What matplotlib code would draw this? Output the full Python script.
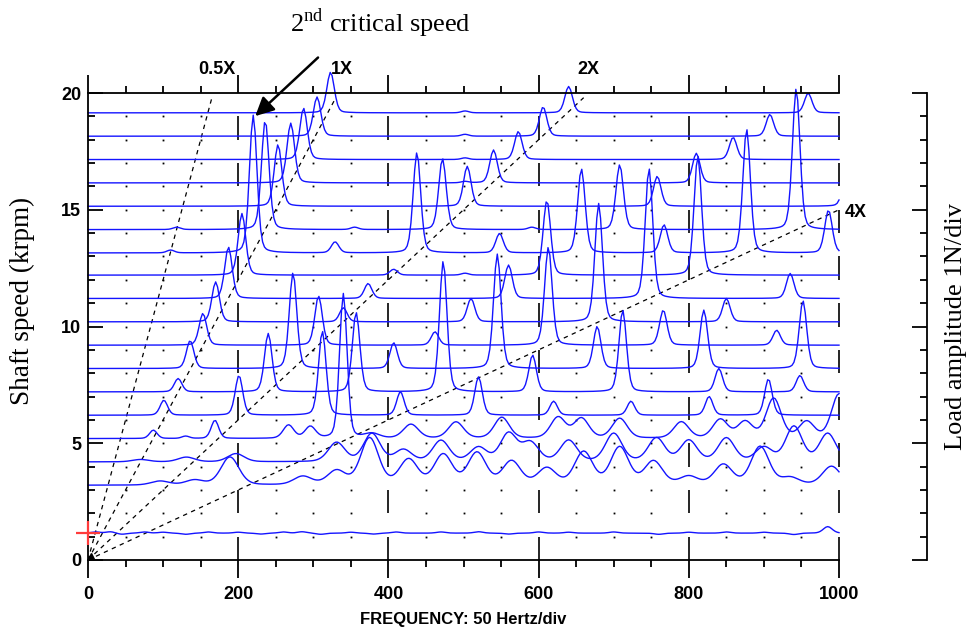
import numpy as np
import matplotlib.pyplot as plt

plt.rcParams['font.family'] = ['Liberation Sans', 'DejaVu Sans']
plt.rcParams['mathtext.fontset'] = 'custom'
plt.rcParams['mathtext.rm'] = 'Liberation Serif'

# shaft speed of each trace (krpm), bottom to top
speeds = [1.15, 3.2, 4.2, 5.2, 6.2, 7.2, 8.2, 9.2, 10.2, 11.2, 12.2,
          13.15, 14.15, 15.15, 16.15, 17.15, 18.15, 19.15]

# peaks per trace: (frequency Hz, amplitude in N) or (freq, amp, width)
p01 = [(10, 0.05), (30, 0.06), (45, -0.05), (75, 0.05), (100, 0.04), (130, -0.05),
       (160, 0.05), (200, 0.04), (230, -0.04), (260, 0.05), (285, 0.06), (310, -0.05),
       (350, 0.04), (380, -0.04), (410, 0.05), (470, 0.05), (520, 0.06), (560, -0.04),
       (600, 0.05), (640, 0.04), (700, 0.05), (760, -0.05), (800, 0.04), (850, 0.05),
       (900, 0.04), (940, -0.06), (985, 0.28)]
p03 = [(96, 0.17), (142, 0.21), (189, 1.2), (286, 0.36), (331, 0.6), (375, 2.0),
       (427, 1.07), (473, 1.28), (518, 1.36), (564, 1.0), (611, 0.7), (660, 1.4),
       (708, 1.6), (753, 1.0), (800, 0.35), (846, 0.86), (895, 1.64), (935, 0.3), (990, 0.8)]
p04 = [(70, 0.1), (131, 0.2), (197, 0.35), (331, 0.82), (378, 1.2), (420, 0.5),
       (470, 0.9), (520, 0.6), (560, 1.2), (589, 0.8), (640, 0.9), (700, 1.2),
       (757, 1.0), (800, 0.9), (850, 1.0), (900, 0.6), (940, 1.5), (985, 1.2)]
p05 = [(87, 0.36, 5), (130, 0.1, 5), (169, 0.78, 5), (267, 0.57, 7), (296, 0.5, 7),
       (340, 6.2, 5), (378, 0.2), (430, 0.6), (490, 0.7), (551, 0.9), (626, 0.9),
       (657, 0.85), (708, 0.85), (790, 0.7), (842, 0.8), (875, 0.7), (913, 1.7),
       (957, 0.7), (1000, 1.9)]
p06 = [(101, 0.64), (201, 1.7), (312, 3.6), (416, 1.0), (520, 1.64), (620, 0.6),
       (723, 0.6), (827, 0.8), (906, 1.55)]
p07 = [(120, 0.57), (240, 2.5), (357, 3.4), (473, 5.6), (592, 1.57), (712, 3.5),
       (840, 1.0), (948, 0.7)]
p08 = [(136, 1.19), (273, 4.1), (407, 1.1), (545, 4.9), (678, 1.8), (820, 2.5), (952, 2.9)]
p09 = [(153, 1.36), (307, 2.1), (462, 0.57), (613, 4.2), (766, 1.5), (917, 0.64)]
p10 = [(170, 1.71), (340, 0.6), (510, 1.0), (680, 5.07), (850, 1.0)]
p11 = [(187, 2.2), (373, 0.64), (560, 1.43), (747, 5.57), (935, 1.07)]
p12 = [(205, 2.64), (407, 0.25), (502, 0.08), (611, 3.2), (812, 5.1)]
p13 = [(110, 0.12), (220, 5.9), (329, 0.47), (438, 4.3), (548, 0.83), (657, 3.6),
       (767, 1.2), (877, 5.3), (986, 1.83)]
p14 = [(118, 0.1), (236, 4.68), (355, 0.1), (472, 3.04), (591, 0.1), (708, 2.78), (943, 6.04)]
p15 = [(253, 2.64), (505, 1.71), (758, 1.28), (1010, 1.6)]
p16 = [(270, 2.56), (502, 0.06), (540, 1.41), (810, 1.27)]
p17 = [(287, 2.2), (502, 0.07), (573, 1.2), (859, 0.95)]
p18 = [(305, 1.68), (502, 0.08), (606, 1.25), (908, 0.93)]
p19 = [(323, 1.74), (502, 0.08), (640, 1.13), (959, 0.84)]

peak_lists = [p01, p03, p04, p05, p06, p07, p08, p09, p10, p11, p12,
              p13, p14, p15, p16, p17, p18, p19]
peak_width = [6, 12, 11, 10, 5, 5, 5, 5, 5, 5, 5, 5, 5, 5, 5, 5, 5, 5]

# order lines
orders = [0.5, 1, 2, 4]
order_labels = ['0.5X', '1X', '2X', '4X']
order_label_pos = [(172, 21.0), (338, 21.0), (666, 21.0), (1022, 14.9)]

freqs = np.arange(0, 1000.01, 2.5)


def spectrum(peaks, width):
    y = np.zeros_like(freqs)
    for p in peaks:
        f0, h = p[0], p[1]
        w = p[2] if len(p) > 2 else width
        d = (freqs - f0) / w
        y += h * (0.75 * np.exp(-0.5 * d ** 2) + 0.25 / (1 + (d / 1.2) ** 2))
    return y


fig = plt.figure(figsize=(9.71, 6.31), dpi=100)
ax = fig.add_axes([88 / 971, 71 / 631, 751 / 971, 467 / 631])
ax.set_xlim(0, 1000)
ax.set_ylim(0, 20)

for side in ['left', 'bottom', 'top']:
    ax.spines[side].set_linewidth(1.3)
ax.spines['right'].set_visible(False)

ax.set_xticks(range(0, 1001, 200))
ax.set_xticks(range(0, 1001, 50), minor=True)
ax.tick_params(axis='x', which='both', top=True, bottom=True, direction='out',
               width=1.3, labelsize=13, pad=6)
ax.tick_params(axis='x', which='major', length=13)
ax.tick_params(axis='x', which='minor', length=5)
ax.set_yticks(range(0, 21, 5))
ax.set_yticks(range(0, 21), minor=True)
ax.tick_params(axis='y', which='both', left=True, right=False, direction='in',
               width=1.3, labelsize=13, pad=5)
ax.tick_params(axis='y', which='major', length=11)
ax.tick_params(axis='y', which='minor', length=5)
for lbl in ax.get_xticklabels() + ax.get_yticklabels():
    lbl.set_fontweight('bold')
ax.set_xlabel('FREQUENCY: 50 Hertz/div', fontsize=12, fontweight='bold', labelpad=6)

# grid: dots and dashed major verticals
gx = [f for f in range(50, 1000, 50) if f % 200]
GX, GY = np.meshgrid(gx, range(1, 20))
ax.plot(GX.ravel(), GY.ravel(), ls='none', marker='s', ms=1.3, mew=0, color='black')
for f in range(200, 1001, 200):
    ax.vlines([f] * 10, [2 * k for k in range(10)], [2 * k + 1 for k in range(10)],
              color='black', lw=1.2, clip_on=False)

# order lines
for order, lab, pos in zip(orders, order_labels, order_label_pos):
    s_end = min(19.8, 60.0 / order)
    ax.plot([0, order * s_end * 1000 / 60], [0, s_end], color='black', lw=0.9,
            ls=(0, (3.5, 3.5)))
    ax.text(pos[0], pos[1], lab, ha='center', va='center', fontsize=13,
            fontweight='bold', clip_on=False)

ax.plot([4], [0.15], marker='^', ms=4, color='black', clip_on=False)

# waterfall traces
for s, peaks, w in zip(speeds, peak_lists, peak_width):
    ax.plot(freqs, s + spectrum(peaks, w), color='#1414ff', lw=1.0, clip_on=False)

# cursor
ax.plot([0], [1.15], marker='+', ms=17, mew=1.6, color='#ff3b3b', clip_on=False,
        zorder=6)

# annotation
ax.annotate('', xy=(220, 18.93), xytext=(309, 21.6), annotation_clip=False,
            arrowprops=dict(arrowstyle='-|>', mutation_scale=28, lw=1.8, color='black'))
ax.text(389, 23.0, r'2$^{\mathrm{nd}}$ critical speed', ha='center', va='center',
        fontsize=19, family='Liberation Serif', clip_on=False)

# right amplitude scale
ax2 = fig.add_axes([927 / 971, 71 / 631, 0.01, 467 / 631])
ax2.set_ylim(0, 20)
ax2.patch.set_visible(False)
for side in ['right', 'bottom', 'top']:
    ax2.spines[side].set_visible(False)
ax2.spines['left'].set_linewidth(1.3)
ax2.set_xticks([])
ax2.set_yticks(range(0, 21, 5))
ax2.set_yticks(range(0, 21), minor=True)
ax2.tick_params(axis='y', which='both', direction='out', width=1.3, labelleft=False)
ax2.tick_params(axis='y', which='major', length=11)
ax2.tick_params(axis='y', which='minor', length=5)

fig.text(22 / 971, 1 - 301 / 631, 'Shaft speed (krpm)', rotation=90, ha='center',
         va='center', fontsize=19.5, family='Liberation Serif')
fig.text(956 / 971, 1 - 326 / 631, 'Load amplitude 1N/div', rotation=90, ha='center',
         va='center', fontsize=19, family='Liberation Serif')

fig.savefig('out.png', dpi=100)
